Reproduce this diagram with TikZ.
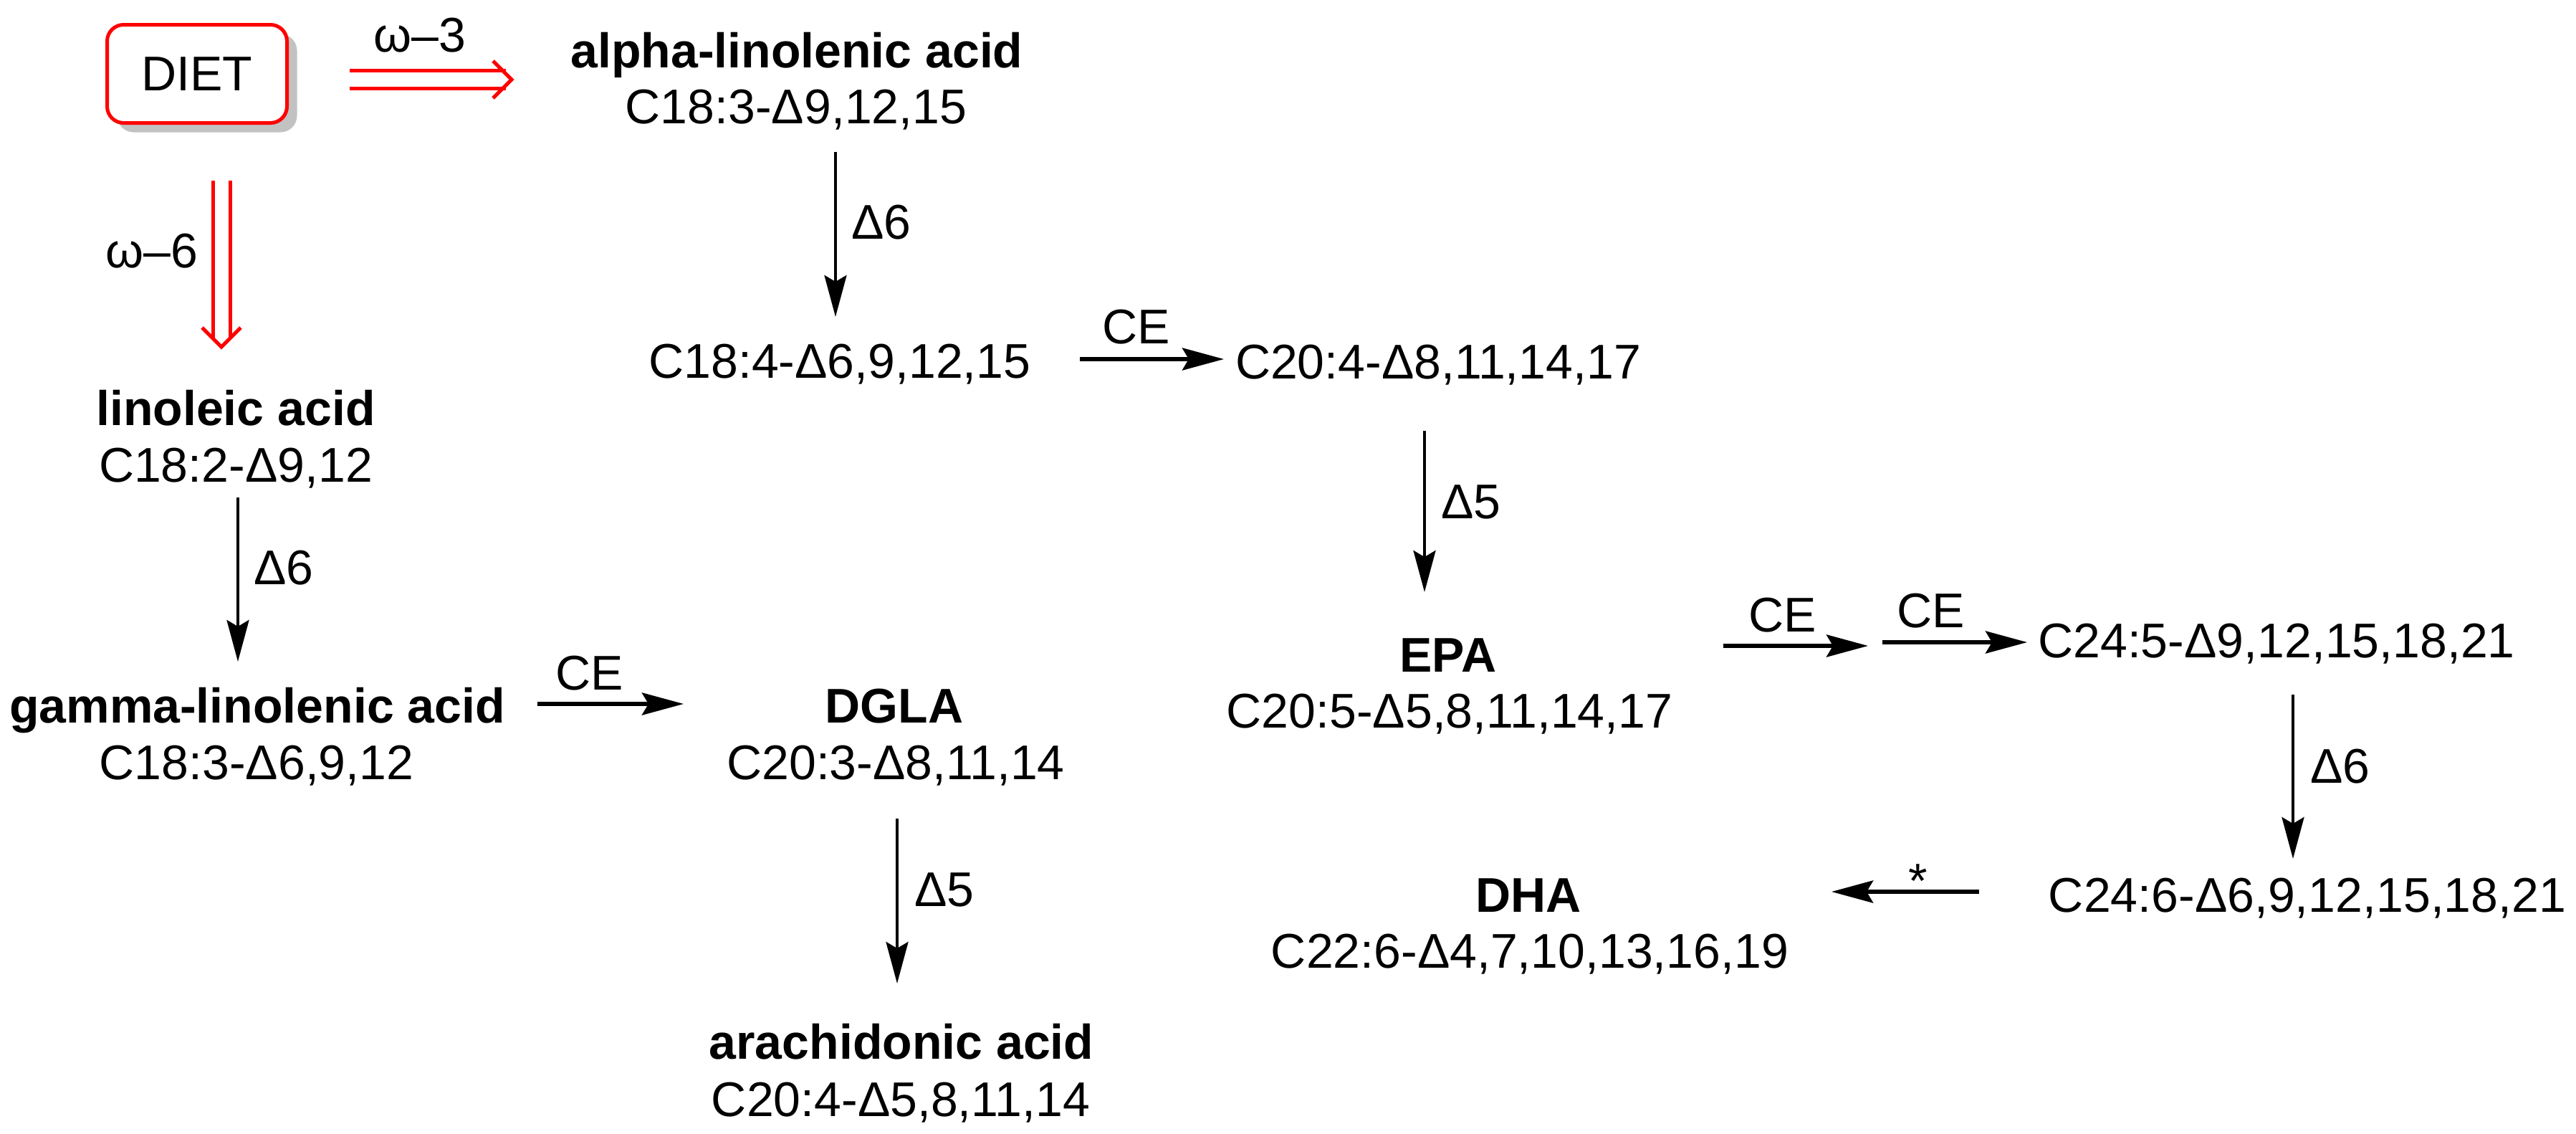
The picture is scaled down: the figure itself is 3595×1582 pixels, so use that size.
\documentclass[tikz,border=0pt]{standalone}
\usepackage{fontspec}
\setmainfont{Liberation Sans}
\usetikzlibrary{arrows.meta,calc,shadows}
\begin{document}
\begin{tikzpicture}[x=1pt,y=-1pt,
  every node/.style={inner sep=0pt, font=\fontsize{68}{80}\selectfont},
  txt/.style={anchor=base},
  nm/.style={anchor=base, font=\fontsize{68}{80}\selectfont\bfseries},
  tipa/.style={-{Stealth[length=58pt,width=31pt,inset=9pt]}},
  harr/.style={line width=5.7pt, tipa},
  varr/.style={line width=4.2pt, tipa},
  dbl/.style={draw=red, line width=5pt},
  chev/.style={draw=red, line width=5pt, line join=miter}]
\useasboundingbox (0,0) rectangle (3595,1582);

% DIET box
\node[draw=red, line width=5pt, rounded corners=23pt, fill=white,
  minimum width=251pt, minimum height=137pt,
  drop shadow={shadow xshift=14pt, shadow yshift=-13pt, fill=black!24, opacity=1}]
  (diet) at (275,103) {DIET};

% compounds
\node[nm]  (ala)   at (1112,94)   {alpha-linolenic acid};
\node[txt] (alaf)  at (1111,172)  {C18:3-Δ9,12,15};
\node[txt] (c184)  at (1172,527)  {C18:4-Δ6,9,12,15};
\node[txt] (c204)  at (2007,528)  {C20:4-Δ8,11,14,17};
\node[nm]  (epa)   at (2021,937)  {EPA};
\node[txt] (epaf)  at (2023,1015) {C20:5-Δ5,8,11,14,17};
\node[txt] (c245)  at (3177,917)  {C24:5-Δ9,12,15,18,21};
\node[txt] (c246)  at (3220,1272) {C24:6-Δ6,9,12,15,18,21};
\node[nm]  (dha)   at (2133,1272) {DHA};
\node[txt] (dhaf)  at (2135,1350) {C22:6-Δ4,7,10,13,16,19};
\node[nm]  (la)    at (329,593)   {linoleic acid};
\node[txt] (laf)   at (329,672)   {C18:2-Δ9,12};
\node[nm]  (gla)   at (359,1008)  {gamma-linolenic acid};
\node[txt] (glaf)  at (358,1087)  {C18:3-Δ6,9,12};
\node[nm]  (dgla)  at (1248,1008) {DGLA};
\node[txt] (dglaf) at (1250,1087) {C20:3-Δ8,11,14};
\node[nm]  (aa)    at (1258,1477) {arachidonic acid};
\node[txt] (aaf)   at (1257,1557) {C20:4-Δ5,8,11,14};

% labels
\node[txt] (w3)  at (586,72)    {ω–3};
\node[txt] (w6)  at (212,373)   {ω–6};
\node[txt] (d6a) at (1230,333)  {Δ6};
\node[txt] (ce1) at (1586,479)  {CE};
\node[txt] (d5a) at (2053,723)  {Δ5};
\node[txt] (ce2) at (2488,881)  {CE};
\node[txt] (ce3) at (2695,875)  {CE};
\node[txt] (d6b) at (3266,1092) {Δ6};
\node[anchor=north] (star) at (2677,1206) {*};
\node[txt] (d6c) at (396,815)   {Δ6};
\node[txt] (ce4) at (823,962)   {CE};
\node[txt] (d5b) at (1318,1264) {Δ5};

% omega-3 double arrow
\draw[dbl] ($(diet.center)+(213,-5)$) -- ($(ala.base)+(-406,4)$);
\draw[dbl] ($(diet.center)+(213,20)$) -- ($(ala.base)+(-406,29)$);
\draw[chev] ($(ala.base)+(-424,-9)$) -- ($(ala.base)+(-398,17)$) -- ($(ala.base)+(-424,43)$);

% omega-6 double arrow
\draw[dbl] ($(diet.center)+(22,149)$) -- ($(la.base)+(-32,-120)$);
\draw[dbl] ($(diet.center)+(46,149)$) -- ($(la.base)+(-8,-120)$);
\draw[chev] ($(la.base)+(-47,-136)$) -- ($(la.base)+(-20,-109)$) -- ($(la.base)+(7,-136)$);

% omega-3 pathway
\draw[varr] ($(alaf.base)+(55,40)$) -- ($(c184.base)+(-6,-85)$);
\draw[harr] ($(c184.base)+(335,-26)$) -- ($(c204.base)+(-299,-27)$);
\draw[varr] ($(c204.base)+(-19,73)$) -- ($(epa.base)+(-33,-111)$);
\draw[harr] ($(epa.base)+(384,-36)$) -- ($(c245.base)+(-570,-16)$);
\draw[harr] ($(epa.base)+(606,-41)$) -- ($(c245.base)+(-348,-21)$);
\draw[varr] ($(c245.base)+(23,52)$) -- ($(c246.base)+(-20,-74)$);
\draw[harr] ($(c246.base)+(-458,-28)$) -- ($(dha.base)+(423,-28)$);

% omega-6 pathway
\draw[varr] ($(laf.base)+(3,22)$) -- ($(gla.base)+(-27,-85)$);
\draw[harr] ($(gla.base)+(391,-26)$) -- ($(dgla.base)+(-294,-26)$);
\draw[varr] ($(dglaf.base)+(2,55)$) -- ($(aa.base)+(-6,-105)$);
\end{tikzpicture}
\end{document}
